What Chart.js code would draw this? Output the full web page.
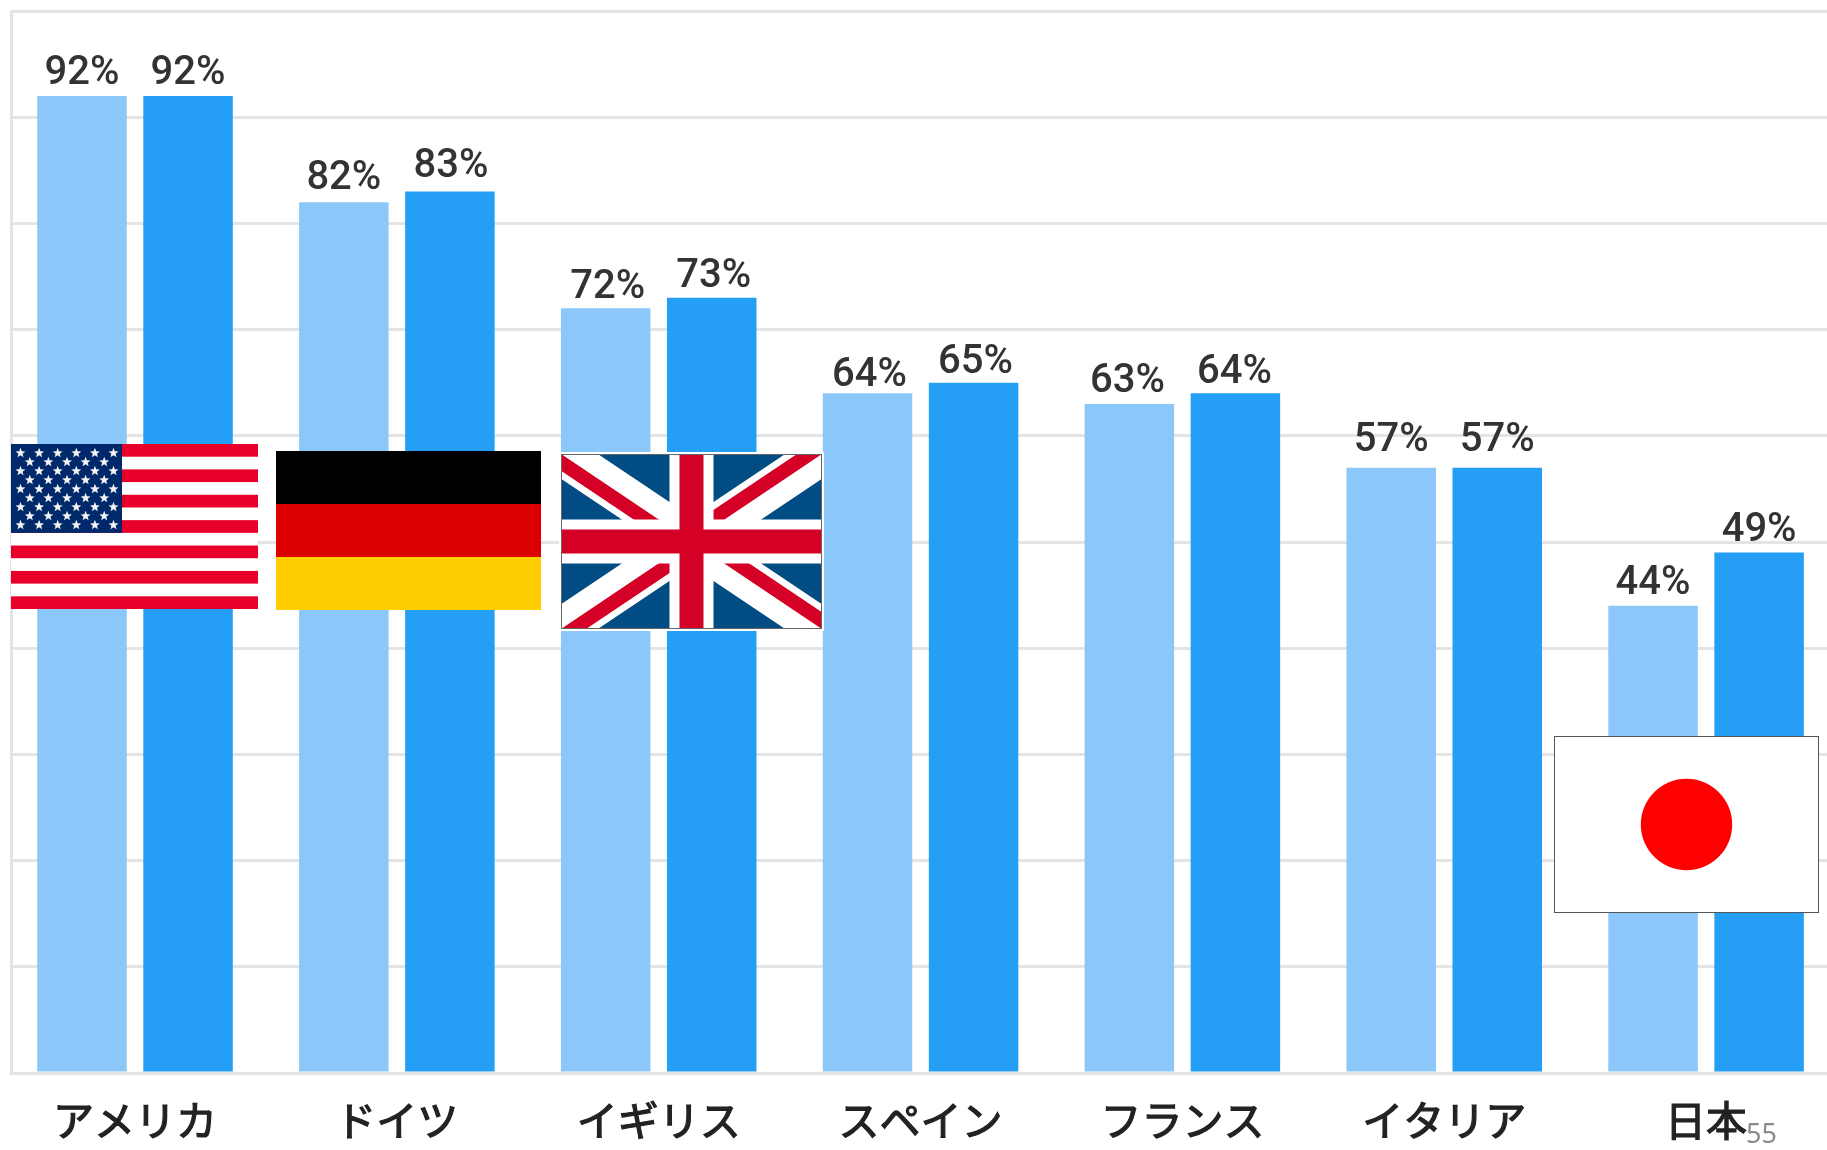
<!DOCTYPE html>
<html lang="ja">
<head>
<meta charset="utf-8">
<title>chart</title>
<script src="https://cdn.jsdelivr.net/npm/chart.js@4"></script>
<style>
html, body { margin: 0; padding: 0; background: #fff; overflow: hidden; width: 1827px; height: 1150px; }
#wrap { position: relative; width: 1827px; height: 1150px; overflow: hidden; }
#myChart { position: absolute; left: 0; top: 0; }
</style>
</head>
<body>
<div id="wrap"><canvas id="myChart" width="1860" height="1150"></canvas></div>
<script>
// Data
const countries = ["アメリカ", "ドイツ", "イギリス", "スペイン", "フランス", "イタリア", "日本"];
const seriesLight = [92, 82, 72, 64, 63, 57, 44];
const seriesDark = [92, 83, 73, 65, 64, 57, 49];
const pageNumber = "55";

const LIGHT = "#8BC8F9";
const DARK = "#259FF5";
const GRID = "#e4e4e4";

// The labels in the picture were placed by hand, so each one is a little off
const labelNudgeX = [[0, 0, 2, 2, -2, 0, 0], [0, 1, 2, 2, -1, 0, 0]];
const labelNudgeY = [[0, -1, 2, 5, 0, -5, 0], [0, -3, 1, 2, 2, -5, 0]];

// Percent labels on top of every bar
const valueLabels = {
	id: "valueLabels",
	afterDatasetsDraw(chart) {
		const ctx = chart.ctx;
		ctx.save();
		ctx.font = "500 40px Roboto";
		ctx.fillStyle = "#333";
		ctx.textAlign = "center";
		ctx.textBaseline = "alphabetic";
		chart.data.datasets.forEach((ds, d) => {
			chart.getDatasetMeta(d).data.forEach((bar, i) => {
				ctx.fillText(ds.data[i] + "%", bar.x + labelNudgeX[d][i], bar.y - 12 + labelNudgeY[d][i]);
			});
		});
		ctx.restore();
	}
};

// The frame of the plot starts a bit right of the first category slot
const leftFrame = {
	id: "leftFrame",
	beforeDatasetsDraw(chart) {
		const ctx = chart.ctx;
		const area = chart.chartArea;
		ctx.save();
		ctx.fillStyle = "#fff";
		ctx.fillRect(0, 0, 10, chart.height);
		ctx.fillStyle = GRID;
		ctx.fillRect(10, area.top - 1, 3, area.bottom - area.top + 2);
		ctx.restore();
	}
};

function star(ctx, cx, cy, r) {
	ctx.beginPath();
	for (let i = 0; i < 10; i++) {
		let a = -Math.PI / 2 + i * Math.PI / 5;
		let rr = i % 2 ? r * 0.42 : r;
		ctx.lineTo(cx + rr * Math.cos(a), cy + rr * Math.sin(a));
	}
	ctx.closePath();
	ctx.fill();
}

function drawUsa(ctx, x, y, w, h) {
	let sh = h / 13;
	ctx.fillStyle = "#fff";
	ctx.fillRect(x, y, w, h);
	ctx.fillStyle = "#E8002A";
	for (let i = 0; i < 13; i += 2) {
		ctx.fillRect(x, y + i * sh, w, sh);
	}
	ctx.fillStyle = "#00296B";
	ctx.fillRect(x, y, 111, 7 * sh);
	ctx.fillStyle = "#f4f4f4";
	for (let row = 0; row < 9; row++) {
		let count = row % 2 ? 5 : 6;
		let start = row % 2 ? x + 18.8 : x + 9.5;
		for (let c = 0; c < count; c++) {
			star(ctx, start + c * 18.6, y + 9 + row * 9, 5.2);
		}
	}
}

function drawGermany(ctx, x, y, w, h) {
	["#000000", "#DD0000", "#FFCE00"].forEach((color, i) => {
		ctx.fillStyle = color;
		ctx.fillRect(x, y + i * h / 3, w, h / 3);
	});
}

function drawUk(ctx, x, y, w, h) {
	ctx.fillStyle = "#fff";
	ctx.fillRect(x, y, w, h);
	let ix = x + 2, iy = y + 2, iw = w - 4, ih = h - 4;
	let cx = ix + iw / 2, cy = iy + ih / 2;
	ctx.save();
	ctx.beginPath();
	ctx.rect(ix, iy, iw, ih);
	ctx.clip();
	ctx.fillStyle = "#004C83";
	ctx.fillRect(ix, iy, iw, ih);
	// white diagonals
	ctx.strokeStyle = "#fff";
	ctx.lineWidth = 41;
	ctx.beginPath();
	ctx.moveTo(ix, iy);
	ctx.lineTo(ix + iw, iy + ih);
	ctx.moveTo(ix + iw, iy);
	ctx.lineTo(ix, iy + ih);
	ctx.stroke();
	// red diagonals, one shifted stripe per quadrant
	[[-1, -1, -1, 1], [1, -1, -1, -1], [1, 1, 1, -1], [-1, 1, 1, 1]].forEach(q => {
		ctx.save();
		ctx.beginPath();
		ctx.rect(q[0] < 0 ? ix : cx, q[1] < 0 ? iy : cy, iw / 2, ih / 2);
		ctx.clip();
		ctx.strokeStyle = "#D50025";
		ctx.lineWidth = 14;
		ctx.beginPath();
		ctx.moveTo(cx + q[2] * 5, cy + q[3] * 5);
		ctx.lineTo(cx + q[0] * iw / 2 + q[2] * 5, cy + q[1] * ih / 2 + q[3] * 5);
		ctx.stroke();
		ctx.restore();
	});
	// straight cross
	ctx.fillStyle = "#fff";
	ctx.fillRect(cx - 22, iy, 44, ih);
	ctx.fillRect(ix, cy - 22, iw, 44);
	ctx.fillStyle = "#D50025";
	ctx.fillRect(cx - 12, iy, 24, ih);
	ctx.fillRect(ix, cy - 12, iw, 24);
	ctx.restore();
	ctx.strokeStyle = "#666";
	ctx.lineWidth = 1;
	ctx.strokeRect(ix + 0.5, iy + 0.5, iw - 1, ih - 1);
}

function drawJapan(ctx, x, y, w, h) {
	ctx.fillStyle = "#fff";
	ctx.fillRect(x, y, w, h);
	ctx.fillStyle = "#FF0000";
	ctx.beginPath();
	ctx.arc(x + w / 2, y + h / 2, 45.7, 0, Math.PI * 2);
	ctx.fill();
	ctx.strokeStyle = "#555";
	ctx.lineWidth = 1;
	ctx.strokeRect(x + 0.5, y + 0.5, w - 1, h - 1);
}

// Flags pasted over the chart and the page number in the corner
const overlays = {
	id: "overlays",
	afterDraw(chart) {
		const ctx = chart.ctx;
		ctx.save();
		drawUsa(ctx, 11, 444, 247, 165);
		drawGermany(ctx, 276, 451, 265, 159);
		drawUk(ctx, 559, 452, 265, 179);
		drawJapan(ctx, 1554, 736, 265, 177);
		ctx.font = "27px 'Noto Sans'";
		ctx.fillStyle = "#8a8a8a";
		ctx.textAlign = "left";
		ctx.fillText(pageNumber, 1746, 1143);
		ctx.restore();
	}
};

new Chart(document.getElementById("myChart"), {
	type: "bar",
	data: {
		labels: countries,
		datasets: [
			{ data: seriesLight, backgroundColor: LIGHT },
			{ data: seriesDark, backgroundColor: DARK }
		]
	},
	options: {
		responsive: false,
		animation: false,
		layout: { padding: { left: 4.1, right: 23, top: 11, bottom: 0 } },
		datasets: { bar: { categoryPercentage: 0.81, barPercentage: 0.844 } },
		plugins: { legend: { display: false }, tooltip: { enabled: false }, title: { display: false } },
		scales: {
			x: {
				afterFit: s => { s.height = 77; },
				grid: { display: false, drawTicks: false },
				border: { display: false },
				ticks: {
					autoSkip: false,
					maxRotation: 0,
					padding: 23,
					color: "#222",
					textStrokeColor: "#222",
					textStrokeWidth: 1.2,
					font: { family: "'Noto Sans CJK JP'", size: 41 }
				}
			},
			y: {
				min: 0,
				max: 100,
				afterFit: s => { s.width = 0; },
				grid: { color: GRID, lineWidth: 3, drawTicks: false },
				border: { display: false },
				ticks: { display: false, stepSize: 10 }
			}
		}
	},
	plugins: [leftFrame, valueLabels, overlays]
});
</script>
</body>
</html>
